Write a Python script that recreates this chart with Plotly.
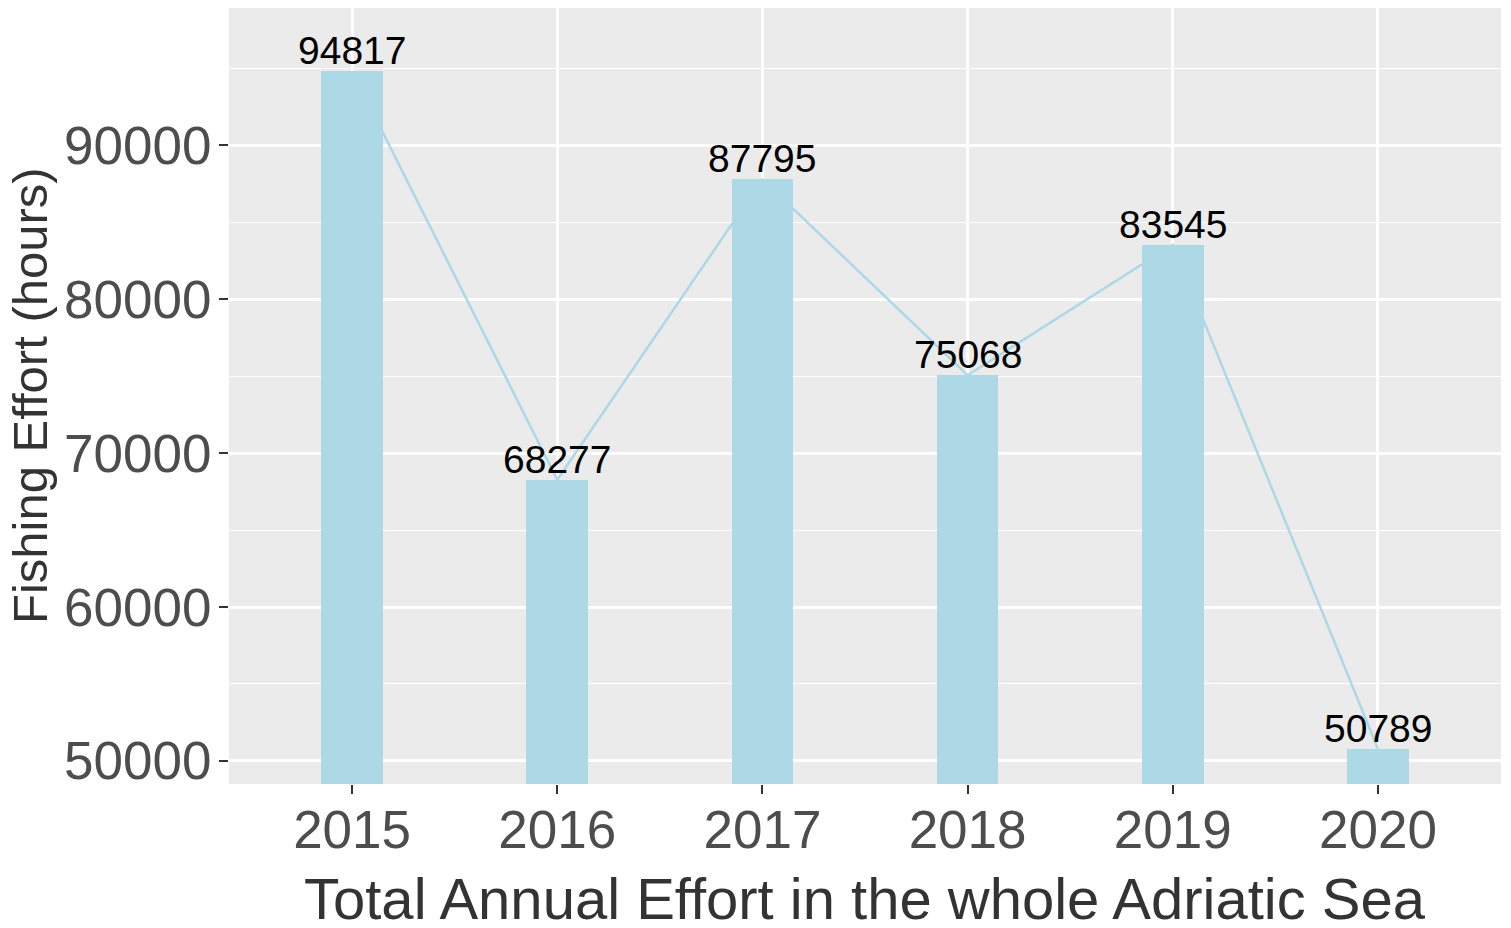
import plotly.graph_objects as go

years = ["2015", "2016", "2017", "2018", "2019", "2020"]
effort = [94817, 68277, 87795, 75068, 83545, 50789]
y_ticks = [50000, 60000, 70000, 80000, 90000]
y_tick_labels = ["50000", "60000", "70000", "80000", "90000"]
y_minor = [55000, 65000, 75000, 85000, 95000]
x_title = "Total Annual Effort in the whole Adriatic Sea"
y_title = "Fishing Effort (hours)"

BAR = "#ADD8E6"
FONT = "Liberation Sans, Arial, sans-serif"

fig = go.Figure()

fig.add_trace(go.Scatter(
    x=years, y=effort, mode="lines",
    line=dict(color=BAR, width=2.5),
    hoverinfo="skip", showlegend=False,
))
fig.add_trace(go.Bar(
    x=years, y=effort, width=0.3,
    marker=dict(color=BAR, line=dict(width=0)),
    showlegend=False,
))

for i, v in enumerate(effort):
    fig.add_annotation(
        x=i, y=v, xref="x", yref="y", text=str(v), showarrow=False,
        xanchor="center", yanchor="bottom", yshift=-3,
        font=dict(family=FONT, size=39, color="black"),
    )

# axis titles as annotations for exact placement
fig.add_annotation(
    x=0.5, y=0, xref="paper", yref="paper", text=x_title, showarrow=False,
    xanchor="center", yanchor="middle", yshift=-114,
    font=dict(family=FONT, size=58, color="#333333"),
)
fig.add_annotation(
    x=0, y=0.5, xref="paper", yref="paper", text=y_title, showarrow=False,
    textangle=-90, xanchor="center", yanchor="middle", xshift=-199,
    font=dict(family=FONT, size=49, color="#333333"),
)

# the page body adds an 8px offset, margins compensate for it
fig.update_layout(
    width=1511, height=928,
    margin=dict(l=221, r=18, t=0, b=152, autoexpand=False),
    paper_bgcolor="white",
    plot_bgcolor="#EBEBEB",
    font=dict(family=FONT),
    bargap=0,
)

fig.update_xaxes(
    type="category",
    range=[-0.6, 5.6],
    automargin=False,
    showgrid=True, gridcolor="white", gridwidth=2.8,
    ticks="outside", ticklen=9, tickwidth=2.2, tickcolor="#333333",
    tickfont=dict(family=FONT, size=53, color="#4D4D4D"),
    ticklabelstandoff=-10,
    showline=False, zeroline=False,
)

fig.update_yaxes(
    range=[48500, 98935],
    automargin=False,
    tickmode="array", tickvals=y_ticks, ticktext=y_tick_labels,
    showgrid=True, gridcolor="white", gridwidth=2.8,
    minor=dict(tickmode="array", tickvals=y_minor,
               showgrid=True, gridcolor="white", gridwidth=1.4, ticks=""),
    ticks="outside", ticklen=9, tickwidth=2.2, tickcolor="#333333",
    tickfont=dict(family=FONT, size=53, color="#4D4D4D"),
    ticklabelstandoff=-3,
    showline=False, zeroline=False,
)

fig.write_html("out.html")
